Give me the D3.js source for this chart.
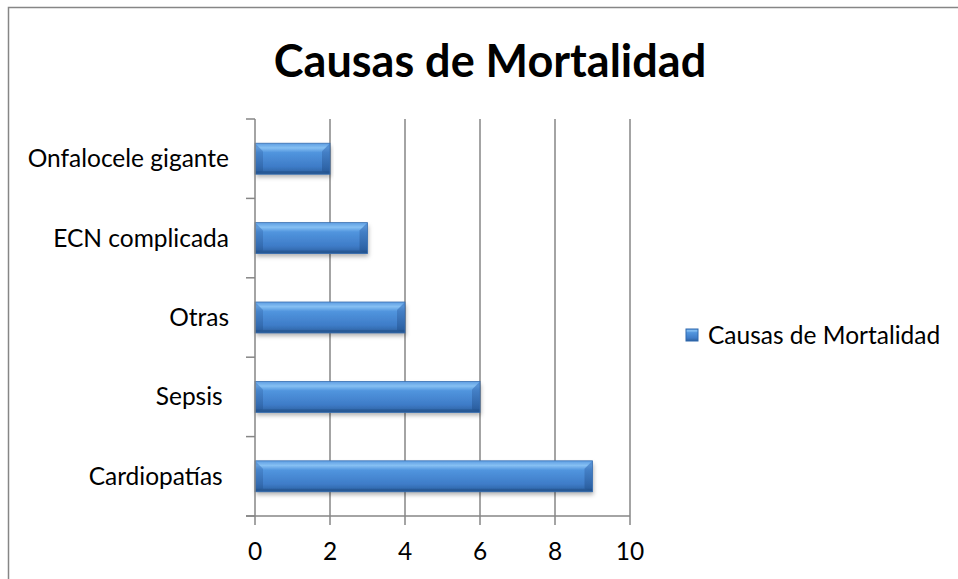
<!DOCTYPE html>
<html>
<head>
<meta charset="utf-8">
<script src="https://cdn.jsdelivr.net/npm/d3@7"></script>
<style>
  body { margin: 0; background: #fff; }
  text { font-family: Lato, "Open Sans", sans-serif; fill: #000; }
</style>
</head>
<body>
<div class="container"></div>
<script>
var categories = ["Cardiopatías ", "Sepsis ", "Otras", "ECN complicada", "Onfalocele gigante"];
var values = [9, 6, 4, 3, 2];
var xTicks = [0, 2, 4, 6, 8, 10];
var seriesName = "Causas de Mortalidad";
var title = "Causas de Mortalidad";

var W = 958, H = 579;
var plot = {left: 255, right: 630, top: 119, bottom: 516};
var labelSize = 24.5;

var svg = d3.select(".container")
    .append("svg")
    .attr("width", W)
    .attr("height", H);

// bar gradient
var defs = svg.append("defs");
var grad = defs.append("linearGradient")
    .attr("id", "barGrad").attr("x1", 0).attr("y1", 0).attr("x2", 0).attr("y2", 1);
grad.append("stop").attr("offset", "0%").attr("stop-color", "#5d9de2");
grad.append("stop").attr("offset", "15%").attr("stop-color", "#86c0f3");
grad.append("stop").attr("offset", "30%").attr("stop-color", "#5195de");
grad.append("stop").attr("offset", "75%").attr("stop-color", "#3e7cc8");
grad.append("stop").attr("offset", "100%").attr("stop-color", "#2c5f9d");

var endGrad = defs.append("linearGradient")
    .attr("id", "endGrad").attr("x1", 0).attr("y1", 0).attr("x2", 0).attr("y2", 1);
endGrad.append("stop").attr("offset", "0%").attr("stop-color", "#4a86cf");
endGrad.append("stop").attr("offset", "100%").attr("stop-color", "#245593");

var shadow = defs.append("filter").attr("id", "shadow")
    .attr("x", "-5%").attr("y", "-20%").attr("width", "110%").attr("height", "160%");
shadow.append("feDropShadow").attr("dx", 1).attr("dy", 3).attr("stdDeviation", 2)
    .attr("flood-color", "#000").attr("flood-opacity", 0.3);

// outer frame
svg.append("rect")
    .attr("x", 8.5).attr("y", 7.5)
    .attr("width", W).attr("height", H)
    .attr("fill", "none").attr("stroke", "#868686").attr("stroke-width", 1.5);

var x = d3.scaleLinear().domain([0, 10]).range([plot.left, plot.right]);
var y = d3.scaleBand()
    .domain(categories.slice().reverse())
    .range([plot.top, plot.bottom])
    .paddingInner(0.61).paddingOuter(0.305);

// vertical gridlines
svg.append("g")
  .selectAll("line")
  .data(xTicks.slice(1))
  .enter().append("line")
    .attr("x1", function(d) { return x(d); })
    .attr("x2", function(d) { return x(d); })
    .attr("y1", plot.top).attr("y2", plot.bottom)
    .attr("stroke", "#868686").attr("stroke-width", 1.5);

// bars
var bars = svg.append("g").selectAll("g")
    .data(categories.map(function(c, i) { return {cat: c, value: values[i]}; }))
    .enter().append("g");

bars.append("rect")
    .attr("x", x(0))
    .attr("y", function(d) { return y(d.cat); })
    .attr("width", function(d) { return x(d.value) - x(0); })
    .attr("height", y.bandwidth())
    .attr("fill", "url(#barGrad)")
    .attr("filter", "url(#shadow)");

// bevel ends
var bev = 8;
bars.append("polygon")
    .attr("points", function(d) {
      var x0 = x(0), y0 = y(d.cat), h = y.bandwidth();
      return [[x0, y0], [x0 + bev, y0 + bev], [x0 + bev, y0 + h - 3], [x0, y0 + h]].join(" ");
    })
    .attr("fill", "url(#endGrad)").attr("opacity", 0.6);
bars.append("polygon")
    .attr("points", function(d) {
      var x1 = x(d.value), y0 = y(d.cat), h = y.bandwidth();
      return [[x1, y0], [x1 - bev, y0 + bev], [x1 - bev, y0 + h - 3], [x1, y0 + h]].join(" ");
    })
    .attr("fill", "url(#endGrad)").attr("opacity", 0.75);
bars.append("rect")
    .attr("x", x(0))
    .attr("y", function(d) { return y(d.cat) + y.bandwidth() - 3; })
    .attr("width", function(d) { return x(d.value) - x(0); })
    .attr("height", 3)
    .attr("fill", "#24548f").attr("opacity", 0.7);
bars.append("rect")
    .attr("x", x(0))
    .attr("y", function(d) { return y(d.cat); })
    .attr("width", function(d) { return x(d.value) - x(0); })
    .attr("height", y.bandwidth())
    .attr("fill", "none").attr("stroke", "#3a6fb0").attr("stroke-width", 0.8);

// y axis
var yAxis = svg.append("g")
    .attr("transform", "translate(" + plot.left + ",0)");
yAxis.append("line")
    .attr("x1", 0).attr("x2", 0).attr("y1", plot.top).attr("y2", plot.bottom)
    .attr("stroke", "#868686").attr("stroke-width", 1.5);
var step = y.step();
var yTickPos = d3.range(categories.length + 1).map(function(i) { return plot.top + i * step; });
yAxis.selectAll(".yt")
    .data(yTickPos)
    .enter().append("line")
    .attr("x1", -9).attr("x2", 0)
    .attr("y1", function(d) { return d; }).attr("y2", function(d) { return d; })
    .attr("stroke", "#868686").attr("stroke-width", 1.5);
yAxis.selectAll("text")
    .data(categories)
    .enter().append("text")
    .attr("x", -26)
    .attr("y", function(d) { return y(d) + y.bandwidth() / 2; })
    .attr("dy", "0.35em")
    .attr("text-anchor", "end")
    .style("white-space", "pre")
    .attr("font-size", labelSize)
    .text(function(d) { return d; });

// x axis
var xAxis = svg.append("g")
    .attr("transform", "translate(0," + plot.bottom + ")");
xAxis.append("line")
    .attr("x1", plot.left - 9).attr("x2", plot.right).attr("y1", 0).attr("y2", 0)
    .attr("stroke", "#868686").attr("stroke-width", 1.5);
xAxis.selectAll(".xt")
    .data(xTicks)
    .enter().append("line")
    .attr("x1", function(d) { return x(d); }).attr("x2", function(d) { return x(d); })
    .attr("y1", 0).attr("y2", 9)
    .attr("stroke", "#868686").attr("stroke-width", 1.5);
xAxis.selectAll("text")
    .data(xTicks)
    .enter().append("text")
    .attr("x", function(d) { return x(d); })
    .attr("y", 44)
    .attr("text-anchor", "middle")
    .attr("font-size", labelSize)
    .text(function(d) { return d; });

// title
svg.append("text")
    .attr("x", 490).attr("y", 77)
    .attr("text-anchor", "middle")
    .attr("font-size", 45).attr("font-weight", "bold")
    .text(title);

// legend
var lg = svg.append("g").attr("transform", "translate(686,329)");
lg.append("rect").attr("width", 12).attr("height", 12).attr("fill", "url(#barGrad)")
    .attr("stroke", "#2f68ad").attr("stroke-width", 1);
lg.append("text").attr("x", 22).attr("y", 6).attr("dy", "0.35em")
    .attr("font-size", labelSize).text(seriesName);
</script>
</body>
</html>
